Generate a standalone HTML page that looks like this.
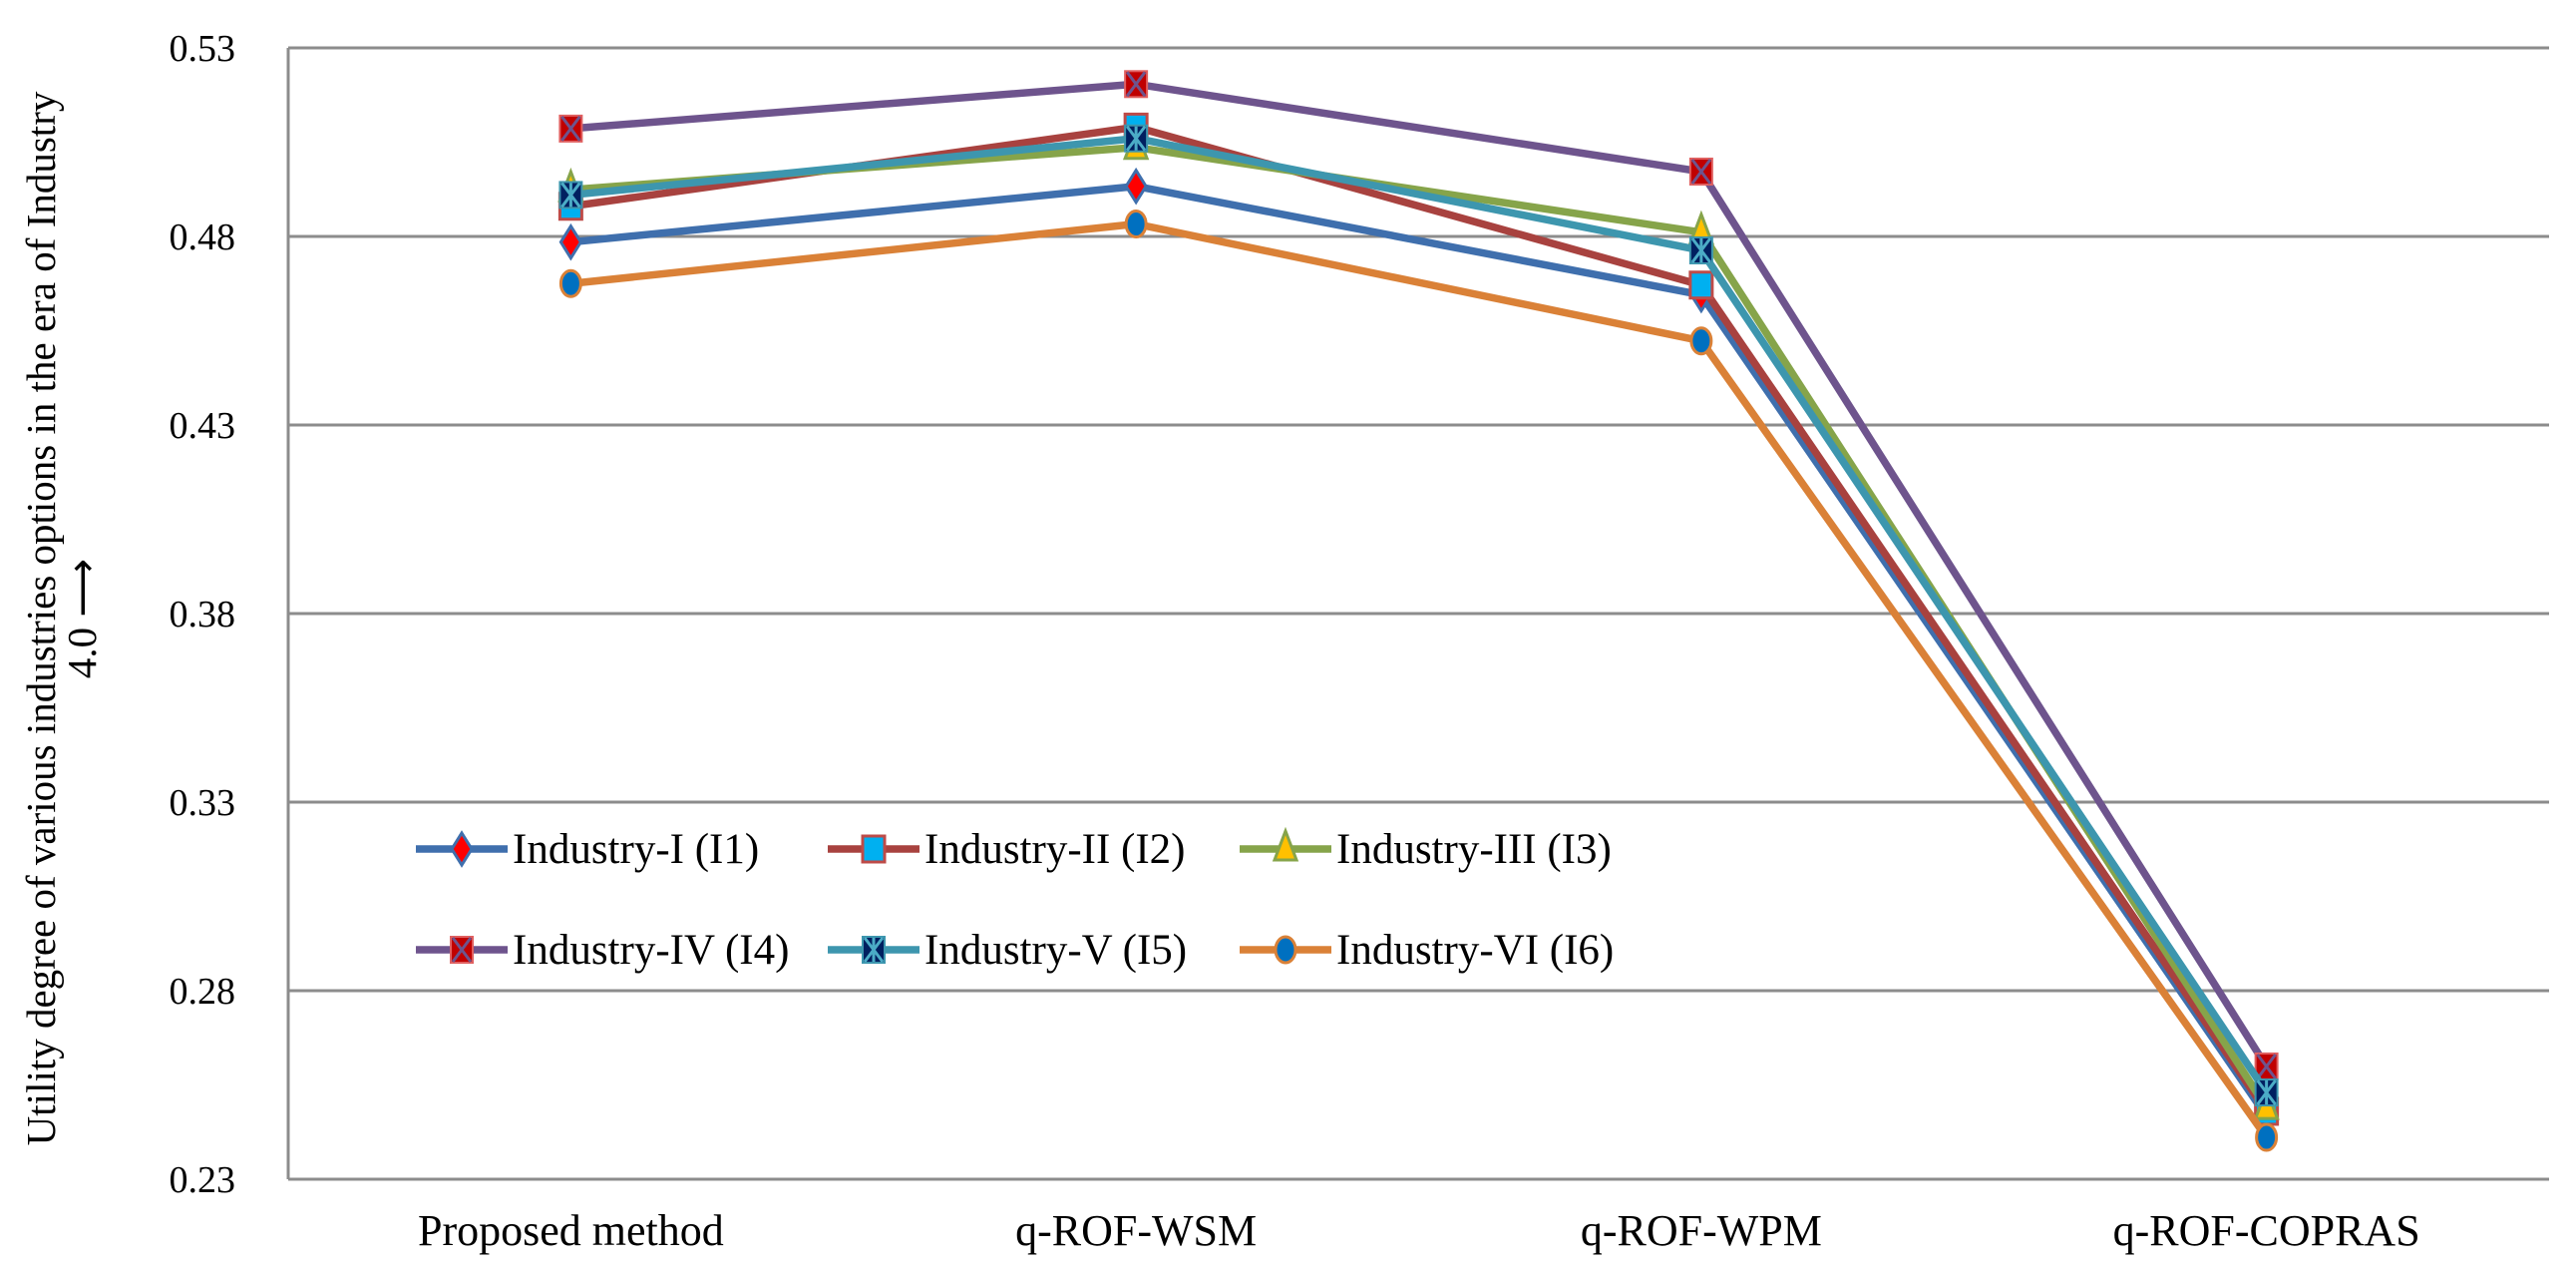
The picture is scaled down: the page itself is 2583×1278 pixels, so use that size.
<!DOCTYPE html>
<html><head><meta charset="utf-8"><style>
html,body{margin:0;padding:0;background:#fff;}
svg text{font-family:"Liberation Serif",serif;fill:#000;}
</style></head><body>
<svg id="chart" width="2583" height="1273" xmlns="http://www.w3.org/2000/svg">
<g id="grid"></g>
<g id="yticks"></g>
<g id="xticks"></g>
<g id="series"></g>
<g id="legend"></g>
<text transform="translate(55,620) rotate(-90)" text-anchor="middle" font-size="41">Utility degree of various industries options  in the era of Industry</text>
<text transform="translate(96,620) rotate(-90)" text-anchor="middle" font-size="41">4.0 ⟶</text>
</svg>
<script>
const categories = ["Proposed method","q-ROF-WSM","q-ROF-WPM","q-ROF-COPRAS"];
const yTicks = [0.23,0.28,0.33,0.38,0.43,0.48,0.53];
const seriesNames = ["Industry-I (I1)","Industry-II (I2)","Industry-III (I3)","Industry-IV (I4)","Industry-V (I5)","Industry-VI (I6)"];
const i1 = [0.4785,0.4933,0.4645,0.2467];
const i2 = [0.4880,0.5090,0.4671,0.2480];
const i3 = [0.4924,0.5036,0.4811,0.2490];
const i4 = [0.5086,0.5204,0.4972,0.2599];
const i5 = [0.4910,0.5060,0.4763,0.2530];
const i6 = [0.4675,0.4833,0.4523,0.2411];
const seriesValues = [i1,i2,i3,i4,i5,i6];

const NS="http://www.w3.org/2000/svg";
const L=289,R=2556,T=48,B=1182,yMin=0.23,yMax=0.53;
const xs=i=>L+(R-L)/categories.length*(i+0.5);
const ys=v=>B-(v-yMin)/(yMax-yMin)*(B-T);
function mk(tag,attrs,parent){const e=document.createElementNS(NS,tag);for(const k in attrs)e.setAttribute(k,attrs[k]);parent.appendChild(e);return e;}
const grid=document.getElementById('grid'),yt=document.getElementById('yticks'),xt=document.getElementById('xticks'),ser=document.getElementById('series'),leg=document.getElementById('legend');
mk('line',{x1:L,y1:T,x2:L,y2:B,stroke:'#8c8c8c','stroke-width':3},grid);
yTicks.forEach(v=>{
  const g=mk('line',{x1:L,y1:ys(v),x2:R,y2:ys(v),stroke:'#8c8c8c','stroke-width':3},grid);
  
  
  const t=mk('text',{x:236,y:ys(v)+13,'text-anchor':'end','font-size':38},yt);
  t.textContent=v.toFixed(2);
  
  
});
categories.forEach((c,i)=>{
  const t=mk('text',{x:xs(i),y:1248,'text-anchor':'middle','font-size':44},xt);
  t.textContent=c;
  
  
});
const lineCol=['#3f6fad','#a8423f','#86a44a','#6e548d','#3d96ae','#da8137'];
function marker(k,x,y,parent){
  let e;
  if(k===0){e=mk('path',{d:`M${x},${y-16}L${x+10},${y}L${x},${y+16}L${x-10},${y}Z`,fill:'#ff0000',stroke:'#3f6fad','stroke-width':3},parent);}
  else if(k===1){e=mk('rect',{x:x-11,y:y-13,width:22,height:26,fill:'#00b0f0',stroke:'#be4b48','stroke-width':3},parent);}
  else if(k===2){e=mk('path',{d:`M${x},${y-18}L${x+11},${y+11}L${x-11},${y+11}Z`,fill:'#ffc000',stroke:'#86a44a','stroke-width':3},parent);}
  else if(k===3){e=mk('g',{},parent);mk('rect',{x:x-11,y:y-13,width:22,height:26,fill:'#c00000',stroke:'#e06060','stroke-width':2},e);mk('path',{d:`M${x-9},${y-12}L${x+9},${y+12}M${x+9},${y-12}L${x-9},${y+12}`,stroke:'#6e548d','stroke-width':3},e);}
  else if(k===4){e=mk('g',{},parent);mk('rect',{x:x-11,y:y-13,width:22,height:26,fill:'#002060',stroke:'#3d96ae','stroke-width':2},e);mk('path',{d:`M${x-9},${y-12}L${x+9},${y+12}M${x+9},${y-12}L${x-9},${y+12}M${x},${y-12}L${x},${y+12}`,stroke:'#4bacc6','stroke-width':3},e);}
  else {e=mk('ellipse',{cx:x,cy:y,rx:10,ry:13,fill:'#0070c0',stroke:'#da8137','stroke-width':3},parent);}
  
  
}
seriesValues.forEach((vals,k)=>{
  const g=mk('g',{},ser);
  
  
  const p=mk('polyline',{points:vals.map((v,i)=>xs(i)+','+ys(v)).join(' '),fill:'none',stroke:lineCol[k],'stroke-width':7.5,'stroke-linejoin':'round'},g);
  
  
  vals.forEach((v,i)=>marker(k,xs(i),ys(v),g));
});
seriesNames.forEach((n,k)=>{
  const col=k%3,row=Math.floor(k/3);
  const lx=417+col*413,ly=851+row*101;
  const g=mk('g',{},leg);
  
  
  mk('line',{x1:lx,y1:ly,x2:lx+92,y2:ly,stroke:lineCol[k],'stroke-width':7.5},g);
  marker(k,lx+46,ly,g);
  const t=mk('text',{x:lx+97,y:ly+14,'font-size':43},g);
  t.textContent=n;
});
</script>
</body></html>
